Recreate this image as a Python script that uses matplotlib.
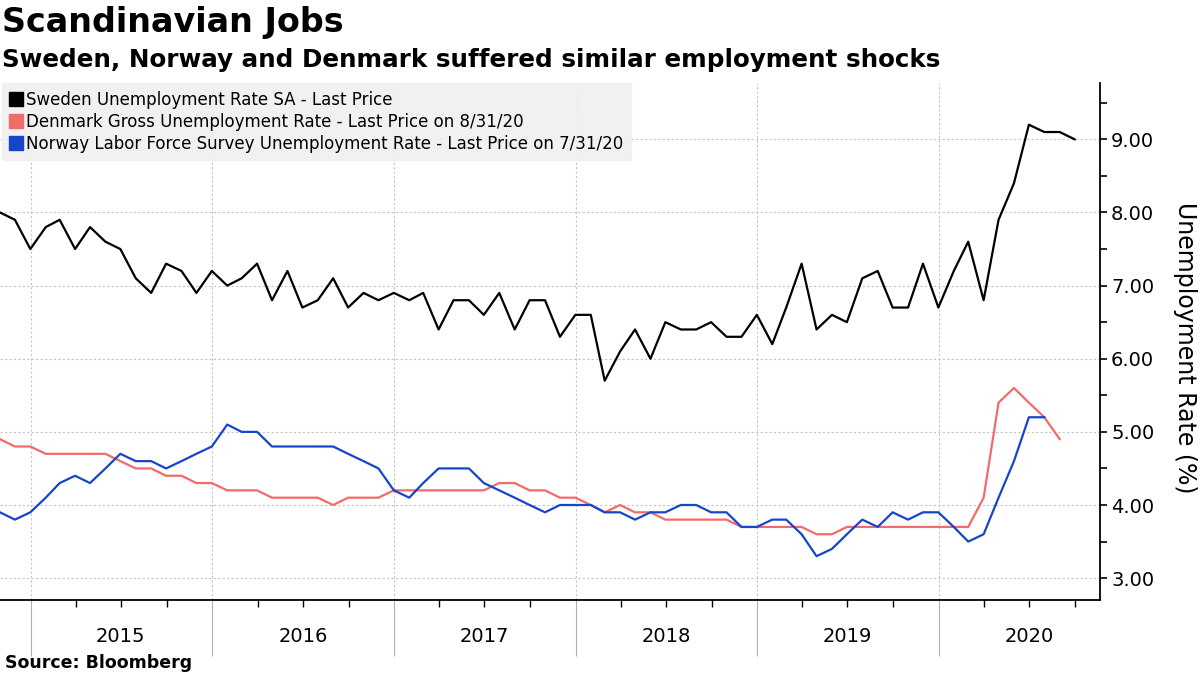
import numpy as np
import pandas as pd
import matplotlib
matplotlib.use("Agg")
import matplotlib.pyplot as plt
import matplotlib.dates as mdates
from matplotlib.lines import Line2D

plt.rcParams['font.family'] = ['DejaVu Sans']

# --- Data (month-end values) ---
start = "2014-11-01"

sweden = [8.0, 7.9, 7.5, 7.8, 7.9, 7.5, 7.8, 7.6, 7.5, 7.1, 6.9, 7.3, 7.2, 6.9, 7.2, 7.0, 7.1, 7.3, 6.8, 7.2,
          6.7, 6.8, 7.1, 6.7, 6.9, 6.8, 6.9, 6.8, 6.9, 6.4, 6.8, 6.8, 6.6, 6.9, 6.4, 6.8, 6.8, 6.3, 6.6,
          6.6, 5.7, 6.1, 6.4, 6.0, 6.5, 6.4, 6.4, 6.5, 6.3, 6.3, 6.6, 6.2, 6.7, 7.3, 6.4, 6.6, 6.5,
          7.1, 7.2, 6.7, 6.7, 7.3, 6.7, 7.2, 7.6, 6.8, 7.9, 8.4, 9.2, 9.1, 9.1, 9.0]

denmark = [4.9, 4.8, 4.8, 4.7, 4.7, 4.7, 4.7, 4.7, 4.6, 4.5, 4.5, 4.4, 4.4, 4.3, 4.3, 4.2, 4.2, 4.2, 4.1, 4.1,
           4.1, 4.1, 4.0, 4.1, 4.1, 4.1, 4.2, 4.2, 4.2, 4.2, 4.2, 4.2, 4.2, 4.3, 4.3, 4.2, 4.2, 4.1, 4.1,
           4.0, 3.9, 4.0, 3.9, 3.9, 3.8, 3.8, 3.8, 3.8, 3.8, 3.7, 3.7, 3.7, 3.7, 3.7, 3.6, 3.6, 3.7,
           3.7, 3.7, 3.7, 3.7, 3.7, 3.7, 3.7, 3.7, 4.1, 5.4, 5.6, 5.4, 5.2, 4.9]

norway = [3.9, 3.8, 3.9, 4.1, 4.3, 4.4, 4.3, 4.5, 4.7, 4.6, 4.6, 4.5, 4.6, 4.7, 4.8, 5.1, 5.0, 5.0, 4.8, 4.8,
          4.8, 4.8, 4.8, 4.7, 4.6, 4.5, 4.2, 4.1, 4.3, 4.5, 4.5, 4.5, 4.3, 4.2, 4.1, 4.0, 3.9, 4.0, 4.0,
          4.0, 3.9, 3.9, 3.8, 3.9, 3.9, 4.0, 4.0, 3.9, 3.9, 3.7, 3.7, 3.8, 3.8, 3.6, 3.3, 3.4, 3.6,
          3.8, 3.7, 3.9, 3.8, 3.9, 3.9, 3.7, 3.5, 3.6, 4.1, 4.6, 5.2, 5.2]

labels = ["Sweden Unemployment Rate SA - Last Price",
          "Denmark Gross Unemployment Rate - Last Price on 8/31/20",
          "Norway Labor Force Survey Unemployment Rate - Last Price on 7/31/20"]
years = [2015, 2016, 2017, 2018, 2019, 2020]

# month-end dates
dates = pd.date_range(start, periods=len(sweden), freq="MS") - pd.Timedelta(days=1)

# --- Colors ---
c_swe = "#000000"
c_den = "#F26B6B"
c_nor = "#1745C9"

fig = plt.figure(figsize=(12, 6.75), dpi=100)
ax = fig.add_axes([0.0, 0.111, 1100 / 1200, 0.766])

ax.plot(dates, sweden, color=c_swe, linewidth=1.6, zorder=3)
ax.plot(dates[:len(denmark)], denmark, color=c_den, linewidth=1.6, zorder=3)
ax.plot(dates[:len(norway)], norway, color=c_nor, linewidth=1.6, zorder=3)

# y axis on the right
ax.yaxis.tick_right()
ax.set_yticks(np.arange(3, 10, 1))
ax.set_yticks(np.arange(3.5, 10, 0.5), minor=True)
ax.set_yticklabels([f"{v:.2f}" for v in np.arange(3, 10, 1)])
ax.tick_params(axis="y", which="both", direction="out", length=5, width=1.2,
               labelsize=14, pad=3, colors="black")

# x axis: year separators and quarter ticks
ax.xaxis.set_major_locator(mdates.YearLocator())
ax.xaxis.set_minor_locator(mdates.MonthLocator(bymonth=[4, 7, 10]))
ax.xaxis.set_major_formatter(plt.NullFormatter())
ax.tick_params(axis="x", which="major", direction="out", length=40, width=0.8, color="#b0b0b0")
ax.tick_params(axis="x", which="minor", direction="out", length=5, width=1.0, color="black")
for y in years:
    ax.text(pd.Timestamp(f"{y}-07-01"), -0.07, str(y), transform=ax.get_xaxis_transform(),
            ha="center", va="center", fontsize=14)

ax.set_xlim(pd.Timestamp("2014-10-31"), pd.Timestamp("2020-11-20"))
ax.set_ylim(2.70, 9.77)

for s in ["left", "top"]:
    ax.spines[s].set_visible(False)
for s in ["right", "bottom"]:
    ax.spines[s].set_linewidth(1.3)

ax.grid(True, which="major", linestyle=(0, (2, 2)), color="#c4c4c4", linewidth=0.8, zorder=0)

# legend
handles = [Line2D([], [], marker="s", linestyle="none", markersize=10, color=c)
           for c in (c_swe, c_den, c_nor)]
leg = ax.legend(handles, labels, loc="upper left", bbox_to_anchor=(0.002, 1.0),
                fontsize=12, frameon=True, fancybox=False, framealpha=0.9,
                facecolor="#f0f0f0", edgecolor="#f0f0f0", handlelength=0.7,
                handletextpad=0.3, labelspacing=0.25, borderpad=0.45, borderaxespad=0)
leg.set_zorder(5)

# titles, axis label, source
fig.text(0.002, 0.966, "Scandinavian Jobs", fontsize=24, fontweight="bold", va="center", ha="left")
fig.text(0.002, 0.911, "Sweden, Norway and Denmark suffered similar employment shocks",
         fontsize=17.7, fontweight="bold", va="center", ha="left")
fig.text(1185 / 1200, 1 - 348 / 675, "Unemployment Rate (%)", rotation=270,
         fontsize=17, ha="center", va="center")
fig.text(0.004, 0.018, "Source: Bloomberg", fontsize=12.5, fontweight="bold", va="center", ha="left")

fig.savefig("out.png", dpi=100)
